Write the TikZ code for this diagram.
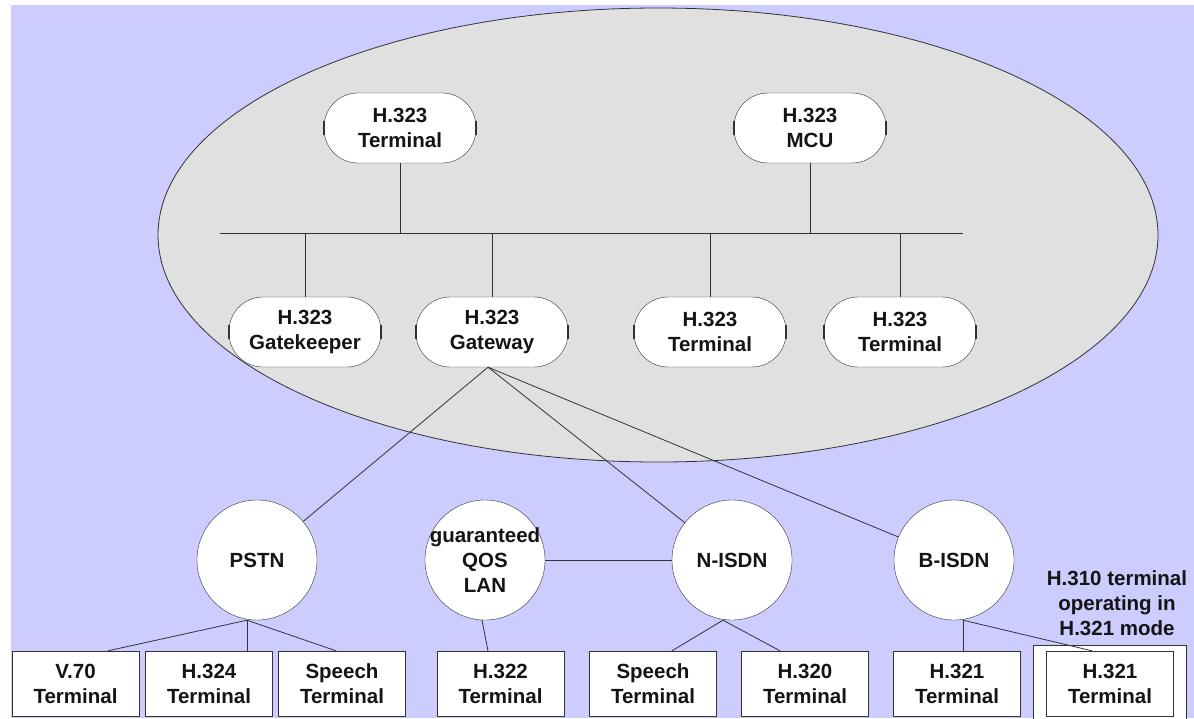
\documentclass[tikz,border=0pt]{standalone}
\usepackage{fontspec}
\setmainfont{Liberation Sans}
\usetikzlibrary{calc}
\definecolor{lanblue}{HTML}{CCCCFF}
\definecolor{netgray}{HTML}{E0E0E0}
\definecolor{linegray}{HTML}{333333}

\begin{document}
\begin{tikzpicture}[
  x=1pt, y=-1pt,
  every node/.style={font=\fontsize{20.5}{25}\selectfont\bfseries, align=center, text=black!92},
  hnode/.style={draw=linegray, fill=white, rounded corners=34pt, minimum width=152pt, minimum height=70pt, inner sep=0pt},
  net/.style={draw=linegray, fill=white, circle, minimum size=120pt, inner sep=0pt},
  term/.style={draw=linegray, fill=white, minimum width=127pt, minimum height=65pt, inner sep=0pt},
  link/.style={draw=linegray, line width=0.8pt},
]
  \useasboundingbox (0,0) rectangle (1194,718);
  \fill[lanblue] (11,5) rectangle (1194,718);
  \draw[link, fill=netgray] (658,235) ellipse [x radius=500pt, y radius=227pt];

  % H.323 zone
  \node[hnode] (t1) at (400,128) {H.323\\Terminal};
  \node[hnode] (mcu) at (810,128) {H.323\\MCU};
  \node[hnode] (gk) at (305,332) {H.323\\Gatekeeper};
  \node[hnode] (gw) at (492,332) {H.323\\Gateway};
  \node[hnode] (t2) at (710,332) {H.323\\Terminal};
  \node[hnode] (t3) at (900,332) {H.323\\Terminal};
  \foreach \n in {t1,mcu,gk,gw,t2,t3} {
    \draw[linegray, line width=1.8pt] ([yshift=-7pt]\n.west) -- ([yshift=7pt]\n.west);
    \draw[linegray, line width=1.8pt] ([yshift=-7pt]\n.east) -- ([yshift=7pt]\n.east);
  }

  \coordinate (busL) at (220,233);
  \coordinate (busR) at (963,233);
  \draw[link] (busL) -- (busR);
  \draw[link] (t1.south) -- (t1.south |- busL);
  \draw[link] (mcu.south) -- (mcu.south |- busL);
  \draw[link] (gk.north) -- (gk.north |- busL);
  \draw[link] (gw.north) -- (gw.north |- busL);
  \draw[link] (t2.north) -- (t2.north |- busL);
  \draw[link] (t3.north) -- (t3.north |- busL);

  % networks
  \node[net] (pstn) at (257,560) {PSTN};
  \node[net] (lan) at (485,560) {\makebox[80pt][c]{guaranteed}\\QOS\\LAN};
  \node[net] (nisdn) at (732,560) {N-ISDN};
  \node[net] (bisdn) at (954,560) {B-ISDN};

  \draw[link] ($(gw.south)+(-4,0)$) -- (pstn);
  \draw[link] ($(gw.south)+(-4,0)$) -- (nisdn);
  \draw[link] ($(gw.south)+(-4,0)$) -- (bisdn);
  \draw[link] (lan) -- (nisdn);

  % terminals
  \node[term] (v70) at (75.5,683.5) {V.70\\Terminal};
  \node[term] (h324) at (209,683.5) {H.324\\Terminal};
  \node[term] (sp1) at (342,683.5) {Speech\\Terminal};
  \node[term] (h322) at (500.5,683.5) {H.322\\Terminal};
  \node[term] (sp2) at (653,683.5) {Speech\\Terminal};
  \node[term] (h320) at (805,683.5) {H.320\\Terminal};
  \node[term] (h321a) at (957,683.5) {H.321\\Terminal};
  \node[draw=linegray, fill=white, minimum width=153pt, minimum height=78pt, inner sep=0pt] (h310) at (1109.5,684) {};
  \node[term] (h321b) at (1110,683.5) {H.321\\Terminal};
  \node (h310lbl) at (1117,603) {H.310 terminal\\operating in\\H.321 mode};

  \draw[link] ($(pstn.south)+(-10,0)$) -- ($(v70.north)+(32.5,0)$);
  \draw[link] ($(pstn.south)+(-10,0)$) -- ($(h324.north)+(38,0)$);
  \draw[link] ($(pstn.south)+(-10,0)$) -- ($(sp1.north)+(-6,0)$);
  \draw[link] ($(lan.south)+(-3,0)$) -- ($(h322.north)+(-12.5,0)$);
  \draw[link] ($(nisdn.south)+(-9,0)$) -- ($(sp2.north)+(19,0)$);
  \draw[link] ($(nisdn.south)+(-9,0)$) -- ($(h320.north)+(-25,0)$);
  \draw[link] ($(bisdn.south)+(9,0)$) -- ($(h321a.north)+(6,0)$);
  \draw[link] ($(bisdn.south)+(9,0)$) -- ($(h321b.north)+(-18,0)$);
\end{tikzpicture}
\end{document}
